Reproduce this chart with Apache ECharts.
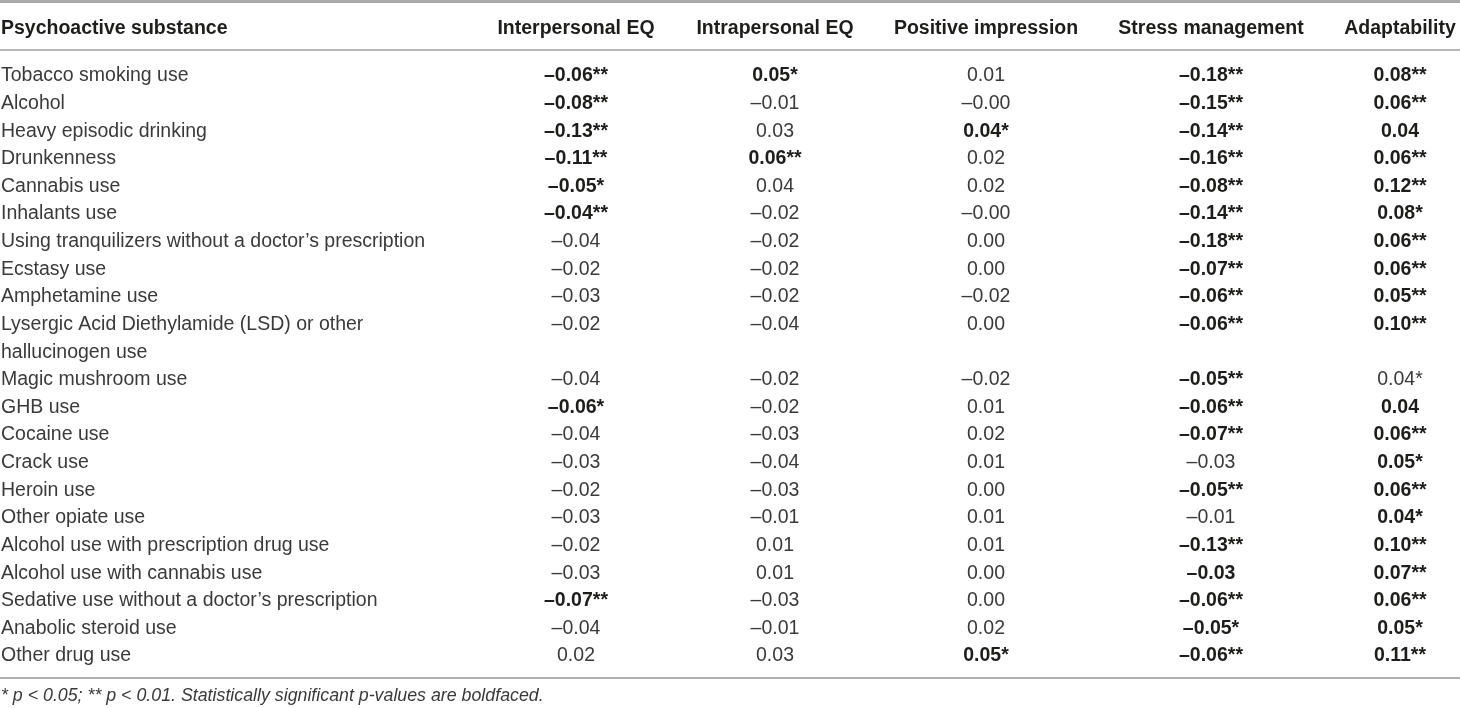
<!DOCTYPE html>
<html>
<head>
<meta charset="utf-8">
<script src="https://cdn.jsdelivr.net/npm/echarts@6/dist/echarts.min.js"></script>
<style>
html,body{margin:0;padding:0;background:#fff;}
#chart{width:1460px;height:708px;}
</style>
</head>
<body>
<div id="chart"></div>
<script>
// ---------------- DATA ----------------
const stubHeader = "Psychoactive substance";
const columns = ["Interpersonal EQ", "Intrapersonal EQ", "Positive impression", "Stress management", "Adaptability"];
const substances = [
  "Tobacco smoking use",
  "Alcohol",
  "Heavy episodic drinking",
  "Drunkenness",
  "Cannabis use",
  "Inhalants use",
  "Using tranquilizers without a doctor\u2019s prescription",
  "Ecstasy use",
  "Amphetamine use",
  "Lysergic Acid Diethylamide (LSD) or other\nhallucinogen use",
  "Magic mushroom use",
  "GHB use",
  "Cocaine use",
  "Crack use",
  "Heroin use",
  "Other opiate use",
  "Alcohol use with prescription drug use",
  "Alcohol use with cannabis use",
  "Sedative use without a doctor\u2019s prescription",
  "Anabolic steroid use",
  "Other drug use"
];
const interpersonal = ["-0.06**","-0.08**","-0.13**","-0.11**","-0.05*","-0.04**","-0.04","-0.02","-0.03","-0.02","-0.04","-0.06*","-0.04","-0.03","-0.02","-0.03","-0.02","-0.03","-0.07**","-0.04","0.02"];
const interpersonalBold = [1,1,1,1,1,1,0,0,0,0,0,1,0,0,0,0,0,0,1,0,0];
const intrapersonal = ["0.05*","-0.01","0.03","0.06**","0.04","-0.02","-0.02","-0.02","-0.02","-0.04","-0.02","-0.02","-0.03","-0.04","-0.03","-0.01","0.01","0.01","-0.03","-0.01","0.03"];
const intrapersonalBold = [1,0,0,1,0,0,0,0,0,0,0,0,0,0,0,0,0,0,0,0,0];
const positiveImpression = ["0.01","-0.00","0.04*","0.02","0.02","-0.00","0.00","0.00","-0.02","0.00","-0.02","0.01","0.02","0.01","0.00","0.01","0.01","0.00","0.00","0.02","0.05*"];
const positiveImpressionBold = [0,0,1,0,0,0,0,0,0,0,0,0,0,0,0,0,0,0,0,0,1];
const stressManagement = ["-0.18**","-0.15**","-0.14**","-0.16**","-0.08**","-0.14**","-0.18**","-0.07**","-0.06**","-0.06**","-0.05**","-0.06**","-0.07**","-0.03","-0.05**","-0.01","-0.13**","-0.03","-0.06**","-0.05*","-0.06**"];
const stressManagementBold = [1,1,1,1,1,1,1,1,1,1,1,1,1,0,1,0,1,1,1,1,1];
const adaptability = ["0.08**","0.06**","0.04","0.06**","0.12**","0.08*","0.06**","0.06**","0.05**","0.10**","0.04*","0.04","0.06**","0.05*","0.06**","0.04*","0.10**","0.07**","0.06**","0.05*","0.11**"];
const adaptabilityBold = [1,1,1,1,1,1,1,1,1,1,0,1,1,1,1,1,1,1,1,1,1];
const footnote = "* p < 0.05; ** p < 0.01. Statistically significant p-values are boldfaced.";

// ---------------- LAYOUT ----------------
const W = 1460, H = 708;
const FONT = "'Liberation Sans', Arial, Helvetica, sans-serif";
const FS = 19.5;
const firstRowY = 76, rowStep = 27.62;
const colX = [576, 775, 986, 1211, 1400];
const stubX = 1;
const headerSlot = (29 - firstRowY) / rowStep;

const valueCols = [interpersonal, intrapersonal, positiveImpression, stressManagement, adaptability];
const boldCols = [interpersonalBold, intrapersonalBold, positiveImpressionBold, stressManagementBold, adaptabilityBold];

// slot index of each row (rows with 2 text lines take 2 slots)
const rowSlot = [];
let acc = 0;
substances.forEach(s => { rowSlot.push(acc); acc += s.split("\n").length; });

const fmt = v => v.replace("-", "\u2013");

// cells: [x, slot, text, bold, align]
const cells = [];
substances.forEach((s, i) => cells.push([stubX, rowSlot[i], s, 0, "left"]));
valueCols.forEach((col, c) => col.forEach((v, i) => cells.push([colX[c], rowSlot[i], fmt(v), boldCols[c][i], "center"])));
const heads = [[stubX, headerSlot, stubHeader, 1, "left"]];
columns.forEach((h, c) => heads.push([colX[c], headerSlot, h, 1, "center"]));

function textRender(params, api) {
  const x = api.value(0), slot = api.value(1);
  const d = params.seriesIndex === 0 ? cells[params.dataIndex] : heads[params.dataIndex];
  const p = api.coord([x, slot]);
  const step = api.size([0, 1])[1];
  return {
    type: "text",
    x: p[0],
    y: p[1] - step / 2,
    style: {
      text: d[2],
      fill: d[3] ? "#1d1d1b" : "#3a3a3a",
      fontSize: FS,
      fontWeight: d[3] ? "bold" : "normal",
      fontFamily: FONT,
      align: d[4],
      verticalAlign: "top",
      lineHeight: step
    }
  };
}

const chart = echarts.init(document.getElementById("chart"), null, { renderer: "canvas" });
chart.setOption({
  backgroundColor: "#ffffff",
  animation: false,
  grid: { left: 0, right: 0, top: 0, bottom: 0 },
  xAxis: { type: "value", min: 0, max: W, show: false },
  yAxis: {
    type: "value",
    inverse: true,
    min: -firstRowY / rowStep,
    max: (H - firstRowY) / rowStep,
    show: false
  },
  series: [
    {
      type: "custom",
      clip: false,
      renderItem: textRender,
      data: cells.map(d => [d[0], d[1]])
    },
    {
      type: "custom",
      clip: false,
      renderItem: textRender,
      data: heads.map(d => [d[0], d[1]])
    }
  ],
  graphic: [
    { type: "rect", left: 0, top: 0, shape: { width: W, height: 3 }, style: { fill: "#a9a9a9" }, silent: true },
    { type: "rect", left: 0, top: 49, shape: { width: W, height: 2 }, style: { fill: "#b8b8b8" }, silent: true },
    { type: "rect", left: 0, top: 677, shape: { width: W, height: 2 }, style: { fill: "#b0b0b0" }, silent: true },
    {
      type: "text", left: 1, top: 687,
      style: { text: footnote, fill: "#3a3a3a", fontSize: 17.8, fontStyle: "italic", fontFamily: FONT }
    }
  ]
});
</script>
</body>
</html>
